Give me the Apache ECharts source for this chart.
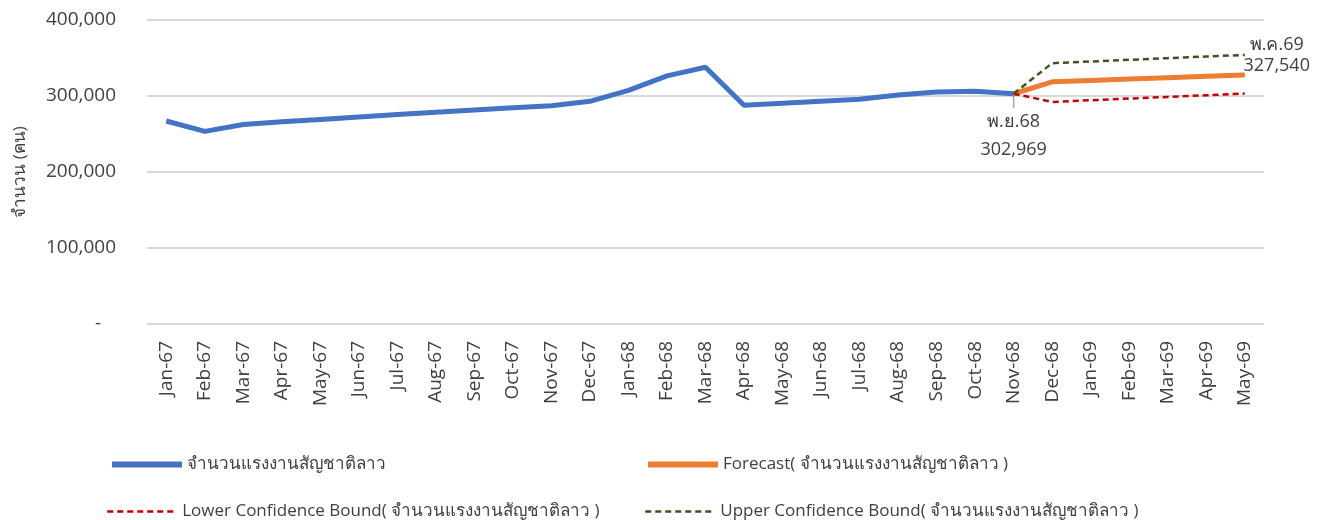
<!DOCTYPE html>
<html>
<head>
<meta charset="utf-8">
<script src="https://cdn.jsdelivr.net/npm/echarts@6/dist/echarts.min.js"></script>
<style>
  html, body { margin: 0; padding: 0; background: #fff; }
  #chart { width: 1327px; height: 520px; }
</style>
</head>
<body>
<div id="chart"></div>
<script>
// เดือน
var months = ['Jan-67', 'Feb-67', 'Mar-67', 'Apr-67', 'May-67', 'Jun-67', 'Jul-67', 'Aug-67', 'Sep-67', 'Oct-67',
    'Nov-67', 'Dec-67', 'Jan-68', 'Feb-68', 'Mar-68', 'Apr-68', 'May-68', 'Jun-68', 'Jul-68', 'Aug-68',
    'Sep-68', 'Oct-68', 'Nov-68', 'Dec-68', 'Jan-69', 'Feb-69', 'Mar-69', 'Apr-69', 'May-69'];

// จำนวนแรงงานสัญชาติลาว (actual)
var actual = [267100, 253500, 262500, 266000, 269200, 272400, 275500, 278600, 281600, 284600,
    287200, 293000, 307500, 326500, 337800, 287800, 290400, 293000, 295600, 301300,
    305200, 306300, 302969, null, null, null, null, null, null];

// forecast / confidence bounds (Dec-68 .. May-69)
var forecast = [318700, 320500, 322300, 324100, 325900, 327540];
var lower = [292200, 294400, 296600, 298800, 301000, 303200];
var upper = [343200, 345400, 347600, 349800, 352000, 354000];

var yTicks = [0, 100000, 200000, 300000, 400000];

var seriesNames = ['จำนวนแรงงานสัญชาติลาว', 'Forecast( จำนวนแรงงานสัญชาติลาว )',
    'Lower Confidence Bound( จำนวนแรงงานสัญชาติลาว )', 'Upper Confidence Bound( จำนวนแรงงานสัญชาติลาว )'];

var startLabel = 'พ.ย.68';
var endLabel = 'พ.ค.69';

var textColor = '#404040';
var font = '"Open Sans", "Noto Sans", sans-serif';
var startIdx = 22;

// ต่อค่าพยากรณ์ให้ตรงกับแกน x
function padForecast(arr) {
    var out = [];
    for (var i = 0; i < months.length; i++) {
        if (i < startIdx) out.push(null);
        else if (i == startIdx) out.push(actual[startIdx]);
        else out.push(arr[i - startIdx - 1]);
    }
    return out;
}

function fmt(v) {
    return v.toString().replace(/\B(?=(\d{3})+(?!\d))/g, ',');
}

var actualData = actual.map(function (v, i) {
    if (i == startIdx) {
        return {
            value: v,
            symbol: 'circle',
            symbolSize: 1,
            label: {
                show: true,
                position: 'bottom',
                distance: 6,
                formatter: startLabel + '\n' + fmt(v),
                color: textColor,
                fontSize: 18,
                lineHeight: 28,
                fontFamily: font
            },
            labelLine: { show: true, lineStyle: { color: '#a6a6a6', width: 1.5 } }
        };
    }
    return v;
});

var forecastData = padForecast(forecast).map(function (v, i) {
    if (i == months.length - 1) {
        return {
            value: v,
            symbol: 'circle',
            symbolSize: 1,
            label: {
                show: true,
                position: 'top',
                distance: -2,
                offset: [32, 0],
                formatter: endLabel + '\n' + fmt(v),
                color: textColor,
                fontSize: 18,
                lineHeight: 21,
                fontFamily: font
            }
        };
    }
    return v;
});

var myChart = echarts.init(document.getElementById('chart'));

function legendAt(name, left, top, width) {
    return {
        data: [name],
        left: left,
        top: top,
        itemWidth: 70,
        itemHeight: 14,
        itemGap: 0,
        lineStyle: { width: width },
        itemStyle: { color: 'rgba(0,0,0,0)', borderWidth: 0, opacity: 0 },
        textStyle: { color: textColor, fontSize: 17, fontFamily: font },
        selectedMode: false
    };
}

var option = {
    backgroundColor: '#fff',
    animation: false,
    textStyle: { fontFamily: font },
    legend: [
        legendAt(seriesNames[0], 104, 451, 6),
        legendAt(seriesNames[1], 640, 451, 6),
        legendAt(seriesNames[2], 101, 498, 2.5),
        legendAt(seriesNames[3], 639, 498, 2.5)
    ],
    grid: {
        left: 147,
        right: 63,
        top: 20,
        bottom: 196
    },
    xAxis: {
        type: 'category',
        data: months,
        boundaryGap: true,
        axisLine: { show: false },
        axisTick: { show: false },
        axisLabel: {
            rotate: 90,
            interval: 0,
            margin: 17,
            color: textColor,
            fontSize: 19,
            fontFamily: font
        }
    },
    yAxis: {
        type: 'value',
        min: yTicks[0],
        max: yTicks[yTicks.length - 1],
        interval: 100000,
        name: 'จำนวน (คน)',
        nameLocation: 'middle',
        nameRotate: 90,
        nameGap: 118,
        nameTextStyle: { color: textColor, fontSize: 17, fontFamily: font },
        axisLine: { show: false },
        axisTick: { show: false },
        axisLabel: {
            margin: 31,
            color: textColor,
            fontSize: 19,
            fontFamily: font,
            formatter: function (v) {
                return v == 0 ? '-   ' : fmt(v);
            }
        },
        splitLine: { lineStyle: { color: '#d9d9d9', width: 2 } }
    },
    series: [{
        name: seriesNames[0],
        type: 'line',
        data: actualData,
        symbol: 'none',
        z: 3,
        color: '#4472C4',
        lineStyle: { width: 5, color: '#4472C4' },
        labelLayout: function (params) {
            if (params.dataIndex == startIdx) {
                return { dy: 8 };
            }
        }
    }, {
        name: seriesNames[1],
        type: 'line',
        data: forecastData,
        symbol: 'none',
        z: 4,
        color: '#ED7D31',
        lineStyle: { width: 5, color: '#ED7D31' }
    }, {
        name: seriesNames[2],
        type: 'line',
        data: padForecast(lower),
        symbol: 'none',
        z: 5,
        color: '#C00000',
        lineStyle: { width: 2.5, type: [6, 4], color: '#C00000' }
    }, {
        name: seriesNames[3],
        type: 'line',
        data: padForecast(upper),
        symbol: 'none',
        z: 5,
        color: '#375623',
        lineStyle: { width: 2.5, type: [6, 4], color: '#375623' }
    }]
};

myChart.setOption(option);
</script>
</body>
</html>
